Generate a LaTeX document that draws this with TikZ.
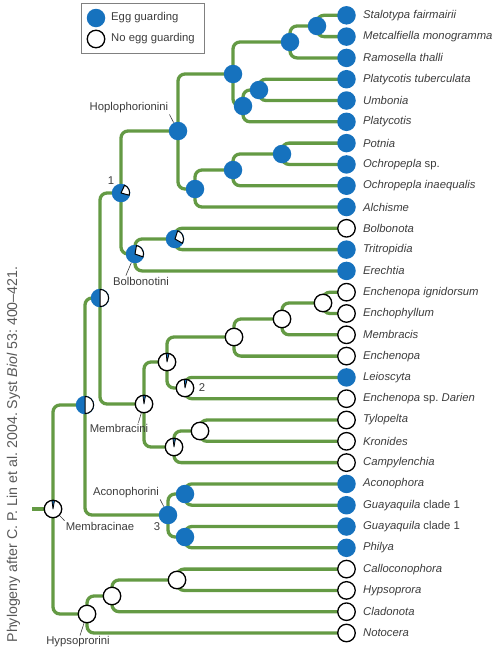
\documentclass[tikz,border=0pt]{standalone}
\usepackage{fontspec}
\setmainfont{Liberation Sans}
\usetikzlibrary{backgrounds}

\definecolor{eggblue}{RGB}{22,114,190}
\definecolor{branchgreen}{RGB}{100,154,68}
\definecolor{inkgray}{RGB}{60,60,60}

% pie wedges on the ancestral state nodes
\newcommand{\whitewedge}[3]{\filldraw[fill=white,draw=black,line width=1pt,line join=round] (#1.center) -- ++(#2:8.6pt) arc[start angle=#2,end angle=#3,radius=8.6pt] -- cycle;}
\newcommand{\bluewedge}[3]{\filldraw[fill=eggblue,draw=black,line width=0.8pt,line join=round] (#1.center) -- ++(#2:8.6pt) arc[start angle=#2,end angle=#3,radius=8.6pt] -- cycle;}

\begin{document}
\frenchspacing
\begin{tikzpicture}[x=1pt,y=-1pt,
	egg/.style = {circle, fill=eggblue, minimum size=18.5pt, inner sep=0pt},
	noegg/.style = {circle, fill=white, draw=black, line width=1.3pt, minimum size=17.5pt, inner sep=0pt},
	taxon/.style = {inner sep=0pt, text=inkgray, font=\fontsize{11.3}{13}\selectfont\itshape},
	clade/.style = {inner sep=1pt, text=inkgray, font=\fontsize{11.3}{13}\selectfont},
	branch/.style = {draw=branchgreen, line width=3.3pt, rounded corners=7pt},
	leader/.style = {draw=inkgray, line width=0.6pt},
	label distance=7pt]
	\useasboundingbox (0,0) rectangle (494,654);

	% legend
	\node [draw=gray, line width=0.8pt, minimum width=123pt, minimum height=50pt] (legend) at (142.5,28) {};
	\node [egg] (legegg) at (96,18) {};
	\node [noegg] (legno) at (96,39) {};
	\node [clade, anchor=west] (legeggtxt) at (110,18) {Egg guarding};
	\node [clade, anchor=west] (legnotxt) at (110,39) {No egg guarding};

	% terminal taxa
	\node [egg, label={[taxon]right:Stalotypa fairmairii}] (stal) at (346.5,15.3) {};
	\node [egg, label={[taxon]right:Metcalfiella monogramma}] (metc) at (346.5,36.6) {};
	\node [egg, label={[taxon]right:Ramosella thalli}] (rams) at (346.5,57.9) {};
	\node [egg, label={[taxon]right:Platycotis tuberculata}] (pltub) at (346.5,79.2) {};
	\node [egg, label={[taxon]right:Umbonia}] (umbo) at (346.5,100.5) {};
	\node [egg, label={[taxon]right:Platycotis}] (plat) at (346.5,121.8) {};
	\node [egg, label={[taxon]right:Potnia}] (potn) at (346.5,143.1) {};
	\node [egg, label={[taxon]right:Ochropepla \upshape sp.}] (ochsp) at (346.5,164.4) {};
	\node [egg, label={[taxon]right:Ochropepla inaequalis}] (ochin) at (346.5,185.7) {};
	\node [egg, label={[taxon]right:Alchisme}] (alch) at (346.5,207) {};
	\node [noegg, label={[taxon]right:Bolbonota}] (bolb) at (346.5,228.3) {};
	\node [egg, label={[taxon]right:Tritropidia}] (trit) at (346.5,249.6) {};
	\node [egg, label={[taxon]right:Erechtia}] (erec) at (346.5,270.9) {};
	\node [noegg, label={[taxon]right:Enchenopa ignidorsum}] (ignid) at (346.5,292.2) {};
	\node [noegg, label={[taxon]right:Enchophyllum}] (enchph) at (346.5,313.5) {};
	\node [noegg, label={[taxon]right:Membracis}] (membr) at (346.5,334.8) {};
	\node [noegg, label={[taxon]right:Enchenopa}] (ench) at (346.5,356.1) {};
	\node [egg, label={[taxon]right:Leioscyta}] (leio) at (346.5,377.4) {};
	\node [noegg, label={[taxon]right:Enchenopa {\upshape sp.} Darien}] (darien) at (346.5,398.7) {};
	\node [noegg, label={[taxon]right:Tylopelta}] (tylo) at (346.5,420) {};
	\node [noegg, label={[taxon]right:Kronides}] (kron) at (346.5,441.3) {};
	\node [noegg, label={[taxon]right:Campylenchia}] (camp) at (346.5,462.6) {};
	\node [egg, label={[taxon]right:Aconophora}] (acon) at (346.5,483.9) {};
	\node [egg, label={[taxon]right:Guayaquila \upshape clade 1}] (guayA) at (346.5,505.2) {};
	\node [egg, label={[taxon]right:Guayaquila \upshape clade 1}] (guayB) at (346.5,526.5) {};
	\node [egg, label={[taxon]right:Philya}] (phil) at (346.5,547.8) {};
	\node [noegg, label={[taxon]right:Calloconophora}] (callo) at (346.5,569.1) {};
	\node [noegg, label={[taxon]right:Hypsoprora}] (hypsp) at (346.5,590.4) {};
	\node [noegg, label={[taxon]right:Cladonota}] (clad) at (346.5,611.7) {};
	\node [noegg, label={[taxon]right:Notocera}] (noto) at (346.5,633) {};

	% ancestral nodes
	\node [egg] (c1) at (317,26) {};
	\node [egg] (c2) at (290,42) {};
	\node [egg] (c3) at (259,90) {};
	\node [egg] (c4) at (243,106) {};
	\node [egg] (c5) at (233,74) {};
	\node [egg] (c6) at (282,154) {};
	\node [egg] (c7) at (233,170) {};
	\node [egg] (c8) at (195,189) {};
	\node [egg] (hoplo) at (178,131) {};
	\node [egg] (c10) at (175,239) {};
	\node [egg] (bolbo) at (135,254) {};
	\node [egg] (one) at (121,193) {};
	\node [noegg] (c13) at (323,303) {};
	\node [noegg] (c14) at (282,319) {};
	\node [noegg] (c15) at (234,337) {};
	\node [noegg] (two) at (185,388) {};
	\node [noegg] (c17) at (167,362) {};
	\node [noegg] (c18) at (200,431) {};
	\node [noegg] (c19) at (174,447) {};
	\node [noegg] (membracini) at (144,404) {};
	\node [egg] (c21) at (100,298) {};
	\node [egg] (c22) at (185,494) {};
	\node [egg] (c23) at (185,537) {};
	\node [egg] (acono) at (168,515) {};
	\node [egg] (c25) at (85,405) {};
	\node [noegg] (c26) at (177,580) {};
	\node [noegg] (c27) at (112,596) {};
	\node [noegg] (hypso) at (87,614) {};
	\node [noegg] (membracinae) at (53,509) {};
	\coordinate (stem) at (32,509);

	\whitewedge{one}{-15}{65}
	\whitewedge{bolbo}{-20}{80}
	\whitewedge{c10}{-30}{72}
	\whitewedge{c21}{-90}{90}
	\whitewedge{c25}{-90}{90}
	\bluewedge{membracini}{80}{97}
	\bluewedge{c17}{76}{95}
	\bluewedge{two}{76}{95}
	\bluewedge{c19}{80}{97}
	\bluewedge{membracinae}{80}{97}

	% branches
	\begin{scope}[on background layer]
	\draw [branch] (stem) -- (membracinae.center);
	\draw [branch] (membracinae.center) |- (c25.center) (membracinae.center) |- (hypso.center);
	\draw [branch] (c25.center) |- (c21.center) (c25.center) |- (acono.center);
	\draw [branch] (c21.center) |- (one.center) (c21.center) |- (membracini.center);
	\draw [branch] (one.center) |- (hoplo.center) (one.center) |- (bolbo.center);
	\draw [branch] (hoplo.center) |- (c5.center) (hoplo.center) |- (c8.center);
	\draw [branch] (c5.center) |- (c2.center) (c5.center) |- (c4.center);
	\draw [branch] (c2.center) |- (c1.center) (c2.center) |- (rams.center);
	\draw [branch] (c1.center) |- (stal.center) (c1.center) |- (metc.center);
	\draw [branch] (c4.center) |- (c3.center) (c4.center) |- (plat.center);
	\draw [branch] (c3.center) |- (pltub.center) (c3.center) |- (umbo.center);
	\draw [branch] (c8.center) |- (c7.center) (c8.center) |- (alch.center);
	\draw [branch] (c7.center) |- (c6.center) (c7.center) |- (ochin.center);
	\draw [branch] (c6.center) |- (potn.center) (c6.center) |- (ochsp.center);
	\draw [branch] (bolbo.center) |- (c10.center) (bolbo.center) |- (erec.center);
	\draw [branch] (c10.center) |- (bolb.center) (c10.center) |- (trit.center);
	\draw [branch] (membracini.center) |- (c17.center) (membracini.center) |- (c19.center);
	\draw [branch] (c17.center) |- (c15.center) (c17.center) |- (two.center);
	\draw [branch] (c15.center) |- (c14.center) (c15.center) |- (ench.center);
	\draw [branch] (c14.center) |- (c13.center) (c14.center) |- (membr.center);
	\draw [branch] (c13.center) |- (ignid.center) (c13.center) |- (enchph.center);
	\draw [branch] (two.center) |- (leio.center) (two.center) |- (darien.center);
	\draw [branch] (c19.center) |- (c18.center) (c19.center) |- (camp.center);
	\draw [branch] (c18.center) |- (tylo.center) (c18.center) |- (kron.center);
	\draw [branch] (acono.center) |- (c22.center) (acono.center) |- (c23.center);
	\draw [branch] (c22.center) |- (acon.center) (c22.center) |- (guayA.center);
	\draw [branch] (c23.center) |- (guayB.center) (c23.center) |- (phil.center);
	\draw [branch] (hypso.center) |- (c27.center) (hypso.center) |- (noto.center);
	\draw [branch] (c27.center) |- (c26.center) (c27.center) |- (clad.center);
	\draw [branch] (c26.center) |- (callo.center) (c26.center) |- (hypsp.center);
	\end{scope}

	% clade names
	\node [clade] (hoplolab) at (129,108) {Hoplophorionini};
	\node [clade] (bolbolab) at (141,281) {Bolbonotini};
	\node [clade] (membrlab) at (119,428) {Membracini};
	\node [clade] (membrnlab) at (100,526) {Membracinae};
	\node [clade] (aconolab) at (126,493) {Aconophorini};
	\node [clade] (hypsolab) at (78,642) {Hypsoprorini};
	\node [clade] (onelab) at (111,181) {1};
	\node [clade] (twolab) at (202,388) {2};
	\node [clade] (threelab) at (157,527) {3};
	\draw [leader] (hoplolab.south east) -- (hoplo);
	\draw [leader] ([xshift=14pt]bolbolab.north west) -- (bolbo);
	\draw [leader] ([xshift=-11pt]membrlab.north east) -- (membracini);
	\draw [leader] (membrnlab.north west) -- (membracinae);
	\draw [leader] (aconolab.south east) -- (acono);
	\draw [leader] ([xshift=2pt]hypsolab.north) -- (hypso);

	\node [rotate=90, inner sep=0pt, text=inkgray!85, font=\fontsize{14.2}{16}\selectfont] (credit) at (13.5,454.5) {Phylogeny after C. P. Lin et al. 2004. Syst \textit{Biol} 53: 400--421.};
\end{tikzpicture}
\end{document}
